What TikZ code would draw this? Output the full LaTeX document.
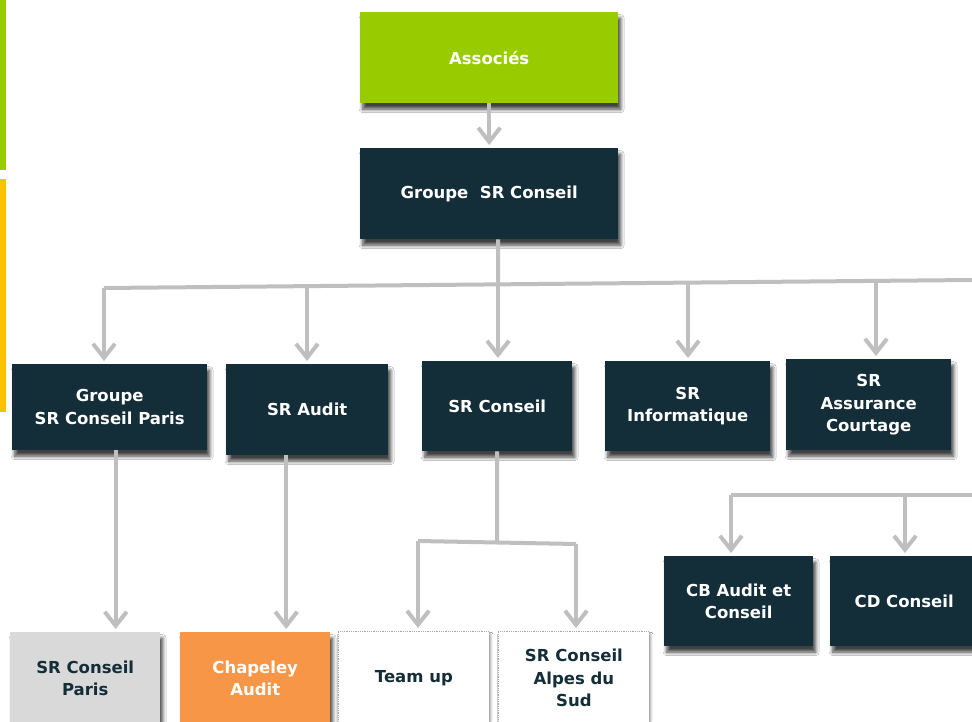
\documentclass[tikz,border=0pt]{standalone}
\usepackage{fontspec}
\setmainfont{DejaVu Sans}
\usetikzlibrary{arrows.meta,shadows.blur,calc}
\definecolor{dark}{HTML}{132E38}
\definecolor{lgreen}{HTML}{99CC00}
\definecolor{lyellow}{HTML}{FFC000}
\definecolor{orange1}{HTML}{F79646}
\definecolor{lgray}{HTML}{D9D9D9}
\definecolor{linec}{HTML}{BFBFBF}
\begin{document}
\begin{tikzpicture}[x=1pt,y=-1pt,
  box/.style={fill=dark, text=white, font=\bfseries\fontsize{16.5}{22.5}\selectfont, align=center,
    anchor=north west, inner sep=0pt, minimum width=150pt, minimum height=90pt,
    blur shadow={shadow xshift=2.5pt, shadow yshift=-6pt, shadow blur steps=8, shadow blur radius=3.5pt, shadow opacity=75}},
  lightbox/.style={box, fill=white, text=dark, draw=gray!70, densely dotted, line width=0.8pt,
    blur shadow={shadow xshift=1.5pt, shadow yshift=-3pt, shadow blur steps=6, shadow blur radius=2pt, shadow opacity=20}},
  conn/.style={draw=linec, line width=4pt},
  arr/.style={conn, shorten >=3pt, -{Straight Barb[length=14pt,width=22pt]}}
]
\useasboundingbox (0,0) rectangle (972,722);
\fill[white] (0,0) rectangle (972,722);
% side bars
\fill[lgreen] (0,0) rectangle (6,170);
\fill[lyellow] (0,179) rectangle (6,412);

% level 0/1
\node[box, fill=lgreen, minimum width=258pt, minimum height=91pt] (assoc) at (360,12) {Associés};
\node[box, minimum width=258pt, minimum height=91pt] (grp) at (360,148) {Groupe\ \ SR Conseil};

% level 2
\node[box, minimum width=195pt, minimum height=86pt] (gscp) at (12,364) {Groupe\\SR Conseil Paris};
\node[box, minimum width=162pt, minimum height=91pt] (audit) at (226,364) {SR Audit};
\node[box, minimum width=150pt, minimum height=90pt] (cons) at (422,361) {SR Conseil};
\node[box, minimum width=165pt, minimum height=90pt] (info) at (605,361) {SR\\Informatique};
\node[box, minimum width=165pt, minimum height=91pt] (assur) at (786,359) {SR\\Assurance\\Courtage};

% level 3
\node[box, fill=lgray, text=dark, minimum width=150pt, minimum height=92pt] (scp) at (10,632) {SR Conseil\\Paris};
\node[box, fill=orange1, minimum width=150pt, minimum height=92pt] (chap) at (180,632) {Chapeley\\Audit};
\node[lightbox, minimum width=151pt, minimum height=93pt] (team) at (338,631) {Team up};
\node[lightbox, minimum width=151pt, minimum height=93pt] (alpes) at (498,631) {SR Conseil\\Alpes du\\Sud};
\node[box, minimum width=149pt, minimum height=90pt] (cb) at (664,556) {CB Audit et\\Conseil};
\node[box, minimum width=148pt, minimum height=90pt] (cd) at (830,556) {CD Conseil};

% connectors
\draw[arr] (assoc.south) -- (grp.north);
\coordinate (busL) at (104,288);
\coordinate (busR) at (972,280);
\coordinate (b2) at (307,286.1);
\coordinate (b3) at (498,284.4);
\coordinate (b4) at (688,282.6);
\coordinate (b5) at (876,280.9);
\draw[conn] (busL) -- (busR);
\draw[conn] ([xshift=9pt]grp.south) -- (b3);
\draw[arr] (busL) -- (busL |- gscp.north);
\draw[arr] (b2) -- (b2 |- audit.north);
\draw[arr] (b3) -- (b3 |- cons.north);
\draw[arr] (b4) -- (b4 |- info.north);
\draw[arr] (b5) -- (b5 |- assur.north);

\draw[arr] ([xshift=6pt]gscp.south) -- ([xshift=6pt]gscp.south |- scp.north);
\draw[arr] ([xshift=-21pt]audit.south) -- ([xshift=-21pt]audit.south |- chap.north);

\coordinate (s0) at (497,542.5);
\coordinate (sL) at (418,541);
\coordinate (sR) at (576,544);
\draw[conn] (cons.south) -- (s0);
\draw[conn] (sL) -- (sR);
\draw[arr] (sL) -- (sL |- team.north);
\draw[arr] (sR) -- (sR |- alpes.north);

\coordinate (aR) at (972,495);
\coordinate (aL) at (731,495);
\coordinate (aM) at (905,495);
\draw[conn] (aR) -- (aL);
\draw[arr] (aL) -- (aL |- cb.north);
\draw[arr] (aM) -- (aM |- cd.north);
\end{tikzpicture}
\end{document}
